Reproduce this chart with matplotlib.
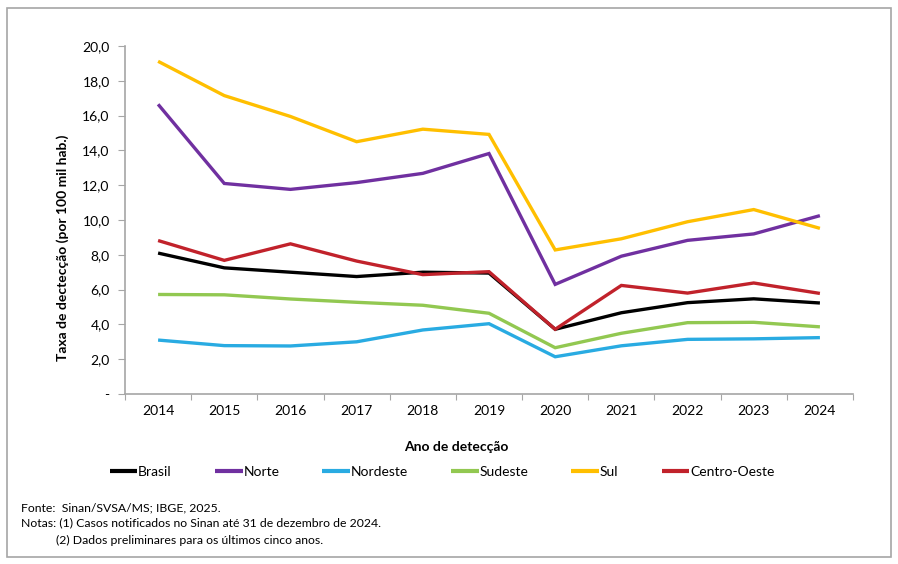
import matplotlib
matplotlib.use("Agg")
import matplotlib.pyplot as plt
from matplotlib.patches import Rectangle
from matplotlib.ticker import FuncFormatter

years = [2014, 2015, 2016, 2017, 2018, 2019, 2020, 2021, 2022, 2023, 2024]
brasil = [8.1, 7.25, 7.0, 6.75, 7.0, 6.95, 3.72, 4.67, 5.25, 5.47, 5.23]
norte = [16.65, 12.1, 11.76, 12.15, 12.68, 13.82, 6.3, 7.92, 8.83, 9.2, 10.25]
nordeste = [3.1, 2.78, 2.76, 3.0, 3.68, 4.04, 2.14, 2.77, 3.14, 3.17, 3.24]
sudeste = [5.72, 5.7, 5.46, 5.27, 5.1, 4.64, 2.66, 3.49, 4.1, 4.12, 3.86]
sul = [19.12, 17.15, 15.95, 14.5, 15.22, 14.92, 8.28, 8.92, 9.9, 10.6, 9.52]
centro_oeste = [8.82, 7.68, 8.63, 7.64, 6.86, 7.03, 3.72, 6.24, 5.8, 6.38, 5.78]

series_names = ["Brasil", "Norte", "Nordeste", "Sudeste", "Sul", "Centro-Oeste"]
series_values = [brasil, norte, nordeste, sudeste, sul, centro_oeste]
series_colors = ["#000000", "#7030A0", "#29ABE2", "#92C851", "#FFBF00", "#C1222B"]

y_ticks = [0, 2, 4, 6, 8, 10, 12, 14, 16, 18, 20]

W, H = 898, 564
fig = plt.figure(figsize=(W / 100, H / 100), dpi=100)
font = "Lato"

# outer frame
fig.add_artist(Rectangle((7 / W, 1 - 557 / H), 884 / W, 549 / H, transform=fig.transFigure,
                         fill=False, edgecolor="#A6A6A6", linewidth=1.2))

ax = fig.add_axes([125 / W, 1 - 394 / H, (853 - 125) / W, (394 - 46) / H])
for name, vals, col in zip(series_names, series_values, series_colors):
    ax.plot(years, vals, color=col, linewidth=2.4, label=name, solid_capstyle="butt",
            solid_joinstyle="miter")

ax.set_xlim(2013.5, 2024.5)
ax.set_ylim(0, 20)
ax.set_yticks(y_ticks)
ax.yaxis.set_major_formatter(FuncFormatter(lambda v, p: "-" if v == 0 else f"{v:.1f}".replace(".", ",")))
ax.set_xticks([y + 0.5 for y in [2013] + years])
ax.set_xticks(years, minor=True)
ax.set_xticklabels([])
ax.set_xticklabels([str(y) for y in years], minor=True)
ax.tick_params(axis="x", which="major", length=4, color="#A6A6A6", direction="out")
ax.tick_params(axis="x", which="minor", length=0, pad=8, labelsize=10, labelcolor="#000000")
ax.tick_params(axis="y", length=5, color="#A6A6A6", direction="out", pad=6, labelsize=10)
for lab in ax.get_xticklabels(minor=True) + ax.get_yticklabels():
    lab.set_fontfamily(font)
for s in ["top", "right"]:
    ax.spines[s].set_visible(False)
for s in ["left", "bottom"]:
    ax.spines[s].set_color("#A6A6A6")
    ax.spines[s].set_linewidth(1.2)

fig.text(63 / W, 1 - 248 / H, "Taxa de dectecção (por 100 mil hab.)", rotation=90,
         ha="center", va="center", fontsize=10, fontweight="bold", family=font)
fig.text(456 / W, 1 - 447 / H, "Ano de detecção", ha="center", va="center",
         fontsize=10, fontweight="bold", family=font)

leg = fig.legend(loc="center", bbox_to_anchor=(442 / W, 1 - 472 / H), ncol=6, frameon=False,
                 handlelength=2.0, handletextpad=0.05, columnspacing=3.1,
                 prop={"family": font, "size": 10})
for h in leg.legend_handles:
    h.set_linewidth(3)

notes = ["Fonte:  Sinan/SVSA/MS; IBGE, 2025.",
         "Notas: (1) Casos notificados no Sinan até 31 de dezembro de 2024."]
fs = 8.8
fig.text(21 / W, 1 - 508 / H, notes[0], ha="left", va="center", fontsize=fs, family=font)
fig.text(21 / W, 1 - 523 / H, notes[1], ha="left", va="center", fontsize=fs, family=font)
fig.text(56 / W, 1 - 540 / H, "(2) Dados preliminares para os últimos cinco anos.", ha="left",
         va="center", fontsize=fs, family=font)

fig.savefig("out.png", dpi=100)
